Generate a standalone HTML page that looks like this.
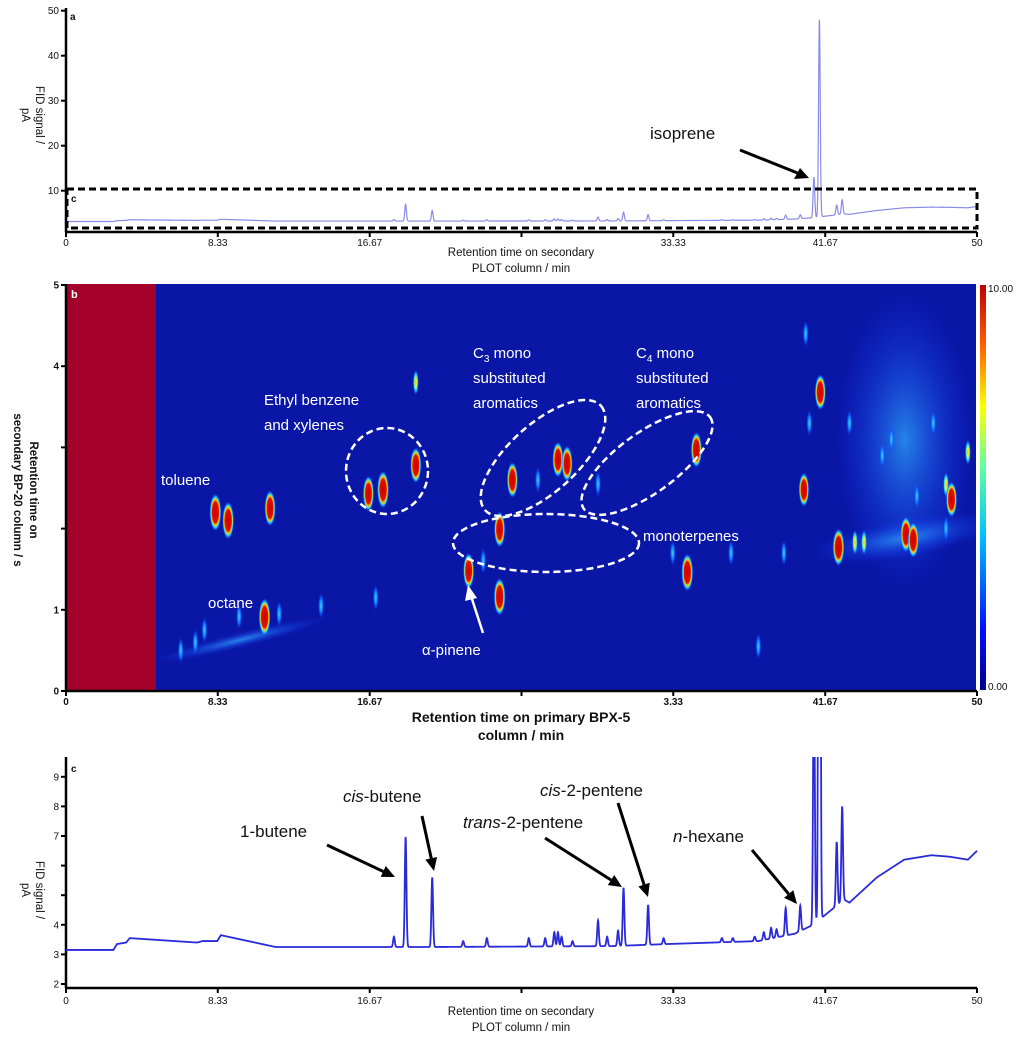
<!DOCTYPE html>
<html><head><meta charset="utf-8">
<style>
html,body{margin:0;padding:0;background:#fff;}
svg{display:block;}
.tk{font-family:"Liberation Sans Narrow","Liberation Sans",sans-serif;font-size:10px;fill:#111;}
.tt{font-family:"Liberation Sans Narrow","Liberation Sans",sans-serif;font-size:11.5px;fill:#111;}
.ann{font-family:"Liberation Sans Narrow","Liberation Sans",sans-serif;font-size:17px;fill:#111;}
.wl{font-family:"Liberation Sans",sans-serif;font-size:15px;fill:#fff;}
</style></head>
<body>
<svg id="fig" width="1024" height="1039" viewBox="0 0 1024 1039" xmlns="http://www.w3.org/2000/svg">
<defs>
<linearGradient id="jet" x1="0" y1="1" x2="0" y2="0">
<stop offset="0" stop-color="#00008f"/><stop offset="0.15" stop-color="#0010ff"/><stop offset="0.38" stop-color="#00c0ff"/><stop offset="0.55" stop-color="#60ffa0"/><stop offset="0.7" stop-color="#ffff00"/><stop offset="0.85" stop-color="#ff6000"/><stop offset="1" stop-color="#c00000"/>
</linearGradient>
<radialGradient id="gHi"><stop offset="0" stop-color="#d00000"/><stop offset="0.55" stop-color="#e01000"/><stop offset="0.68" stop-color="#ffd000"/><stop offset="0.8" stop-color="#20d0ff"/><stop offset="1" stop-color="#1030ff" stop-opacity="0"/></radialGradient>
<radialGradient id="gMid"><stop offset="0" stop-color="#ffb000"/><stop offset="0.35" stop-color="#d0ff40"/><stop offset="0.65" stop-color="#20c0ff"/><stop offset="1" stop-color="#1030ff" stop-opacity="0"/></radialGradient>
<radialGradient id="gLo"><stop offset="0" stop-color="#40d0ff"/><stop offset="0.5" stop-color="#1080ff"/><stop offset="1" stop-color="#1030ff" stop-opacity="0"/></radialGradient>
<radialGradient id="gHaze"><stop offset="0" stop-color="#30a8ff" stop-opacity="0.75"/><stop offset="1" stop-color="#1030ff" stop-opacity="0"/></radialGradient>
<clipPath id="clipC"><rect x="66" y="757" width="912" height="232"/></clipPath>
<clipPath id="clipB"><rect x="66" y="284" width="910" height="407"/></clipPath>
</defs>

<g id="panelA">
  <g id="aAxes"></g>
  <path id="aLine" fill="none" stroke="#8a8ae8" stroke-width="1.2"/>
  <rect x="67" y="189" width="910" height="39" fill="none" stroke="#000" stroke-width="3" stroke-dasharray="7,4"/>
  <text class="tk" x="71" y="202" font-weight="bold">c</text>
  <text class="tk" x="70" y="20" font-weight="bold">a</text>
  <text class="tt" transform="translate(36,115) rotate(90)" text-anchor="middle">FID signal /</text>
  <text class="tt" transform="translate(22,115) rotate(90)" text-anchor="middle">pA</text>
  <text class="tt" x="521" y="256" text-anchor="middle">Retention  time on secondary</text>
  <text class="tt" x="521" y="272" text-anchor="middle">PLOT column  / min</text>
  <text class="ann" x="650" y="139">isoprene</text>
  <line x1="740" y1="150" x2="800" y2="174" stroke="#000" stroke-width="3"/>
  <polygon points="809,178 794,179 800,168" fill="#000"/>
</g>

<g id="panelB">
  <rect x="66" y="284" width="910" height="407" fill="#0a17a6"/>
  <g id="bBlobs" clip-path="url(#clipB)">
    <ellipse cx="905" cy="440" rx="70" ry="150" fill="url(#gHaze)"/>
    <ellipse cx="905" cy="538" rx="95" ry="20" fill="url(#gHaze)" transform="rotate(-10 905 538)"/>
    <ellipse cx="240" cy="640" rx="90" ry="8" fill="url(#gHaze)" transform="rotate(-14 240 640)"/>
  </g>
  <rect x="66" y="284" width="90" height="407" fill="#a3002a"/>
  <g id="bAxes"></g>
  <rect x="980" y="285" width="6" height="405" fill="url(#jet)"/>
  <text class="tk" x="988" y="292" font-size="8.5">10.00</text>
  <text class="tk" x="988" y="690" font-size="8.5">0.00</text>
  <text x="71" y="298" font-family="Liberation Sans" font-size="11" font-weight="bold" fill="#fff">b</text>
  <text class="tt" font-size="12.5" font-weight="bold" transform="translate(30,490) rotate(90)" text-anchor="middle">Retention time on</text>
  <text class="tt" font-size="12.5" font-weight="bold" transform="translate(14,490) rotate(90)" text-anchor="middle">secondary BP-20 column / s</text>
  <text x="521" y="722" text-anchor="middle" font-family="Liberation Sans" font-size="14" font-weight="bold" fill="#111">Retention time on primary BPX-5</text>
  <text x="521" y="740" text-anchor="middle" font-family="Liberation Sans" font-size="14" font-weight="bold" fill="#111">column / min</text>
  <text class="wl" x="161" y="485">toluene</text>
  <text class="wl" x="208" y="608">octane</text>
  <text class="wl" x="264" y="405">Ethyl benzene</text>
  <text class="wl" x="264" y="430">and xylenes</text>
  <text class="wl" x="473" y="358">C<tspan font-size="10" dy="4">3</tspan><tspan dy="-4"> mono</tspan></text>
  <text class="wl" x="473" y="383">substituted</text>
  <text class="wl" x="473" y="408">aromatics</text>
  <text class="wl" x="636" y="358">C<tspan font-size="10" dy="4">4</tspan><tspan dy="-4"> mono</tspan></text>
  <text class="wl" x="636" y="383">substituted</text>
  <text class="wl" x="636" y="408">aromatics</text>
  <text class="wl" x="643" y="541">monoterpenes</text>
  <text class="wl" x="422" y="655">α-pinene</text>
  <line x1="483" y1="633" x2="471" y2="596" stroke="#fff" stroke-width="2.5"/>
  <polygon points="468,585 477,598 465,601" fill="#fff"/>
  <ellipse cx="387" cy="471" rx="41" ry="43" fill="none" stroke="#fff" stroke-width="2.5" stroke-dasharray="7,4"/>
  <ellipse cx="543" cy="458" rx="78" ry="34" fill="none" stroke="#fff" stroke-width="2.5" stroke-dasharray="7,4" transform="rotate(-42 543 458)"/>
  <ellipse cx="647" cy="463" rx="78" ry="30" fill="none" stroke="#fff" stroke-width="2.5" stroke-dasharray="7,4" transform="rotate(-36 647 463)"/>
  <ellipse cx="546" cy="543" rx="93" ry="29" fill="none" stroke="#fff" stroke-width="2.5" stroke-dasharray="7,4"/>
</g>

<g id="panelC">
  <g id="cAxes"></g>
  <path id="cLine" clip-path="url(#clipC)" fill="none" stroke="#2a2ad8" stroke-width="1.8"/>
  <text class="tk" x="71" y="772" font-weight="bold">c</text>
  <text class="tt" transform="translate(36,890) rotate(90)" text-anchor="middle">FID signal /</text>
  <text class="tt" transform="translate(22,890) rotate(90)" text-anchor="middle">pA</text>
  <text class="tt" x="521" y="1015" text-anchor="middle">Retention  time on secondary</text>
  <text class="tt" x="521" y="1031" text-anchor="middle">PLOT column  / min</text>
  <text class="ann" x="240" y="837">1-butene</text>
  <text class="ann" x="343" y="802"><tspan font-style="italic">cis</tspan>-butene</text>
  <text class="ann" x="463" y="828"><tspan font-style="italic">trans</tspan>-2-pentene</text>
  <text class="ann" x="540" y="796"><tspan font-style="italic">cis</tspan>-2-pentene</text>
  <text class="ann" x="673" y="842"><tspan font-style="italic">n</tspan>-hexane</text>
  <g id="cArrows"></g>
</g>

<script>
var baseT = [0, 2.6, 2.8, 3.3, 3.5, 7.2, 7.5, 8.3, 8.5, 11.5, 20, 30, 33, 38, 40, 41, 42, 42.7, 43, 44.5, 46, 47.5, 48.5, 49.5, 50];
var baseV = [3.15, 3.15, 3.35, 3.4, 3.55, 3.4, 3.45, 3.45, 3.65, 3.25, 3.25, 3.28, 3.35, 3.45, 3.7, 4.0, 4.5, 4.85, 4.75, 5.6, 6.2, 6.35, 6.3, 6.2, 6.5];
var peakT = [18.0, 18.64, 20.1, 21.8, 23.1, 25.4, 26.3, 26.8, 27.0, 27.2, 27.8, 29.2, 29.7, 30.3, 30.6, 31.95, 32.8, 36.0, 36.6, 37.8, 38.3, 38.7, 39.0, 39.5, 40.3, 41.05, 41.35, 42.3, 42.6];
var peakH = [3.6, 6.97, 5.6, 3.45, 3.55, 3.55, 3.55, 3.75, 3.75, 3.6, 3.45, 4.15, 3.6, 3.8, 5.25, 4.67, 3.55, 3.55, 3.55, 3.6, 3.75, 3.9, 3.85, 4.57, 4.65, 13, 48, 6.8, 8.0];
var aYTicks = [10, 20, 30, 40, 50];
var xTicks = [0, 8.33, 16.67, 25, 33.33, 41.67, 50];
var xTickLabels = ["0", "8.33", "16.67", "", "33.33", "41.67", "50"];
var cYTicks = [2, 3, 4, 5, 6, 7, 8, 9];
var cYTickLabels = ["2", "3", "4", "", "", "7", "8", "9"];
var blobT1 = [8.2, 8.9, 11.2, 10.9, 16.6, 17.4, 19.2, 19.2, 22.1, 23.8, 23.8, 24.5, 27.0, 27.5, 34.6, 34.1, 41.4, 40.5, 42.4, 43.3, 43.8, 46.1, 46.5, 48.3, 48.6, 49.5, 6.3, 7.1, 9.5, 14.0, 17.0, 22.9, 25.9, 29.2, 33.3, 40.6, 40.8, 45.3, 47.6, 38.0, 44.8, 48.3, 36.5, 39.4, 43.0, 46.7, 11.7, 7.6];
var blobT2 = [2.2, 2.1, 2.25, 0.91, 2.43, 2.48, 2.78, 3.8, 1.48, 1.16, 1.99, 2.6, 2.85, 2.8, 2.97, 1.46, 3.68, 2.48, 1.77, 1.83, 1.83, 1.93, 1.86, 2.54, 2.36, 2.94, 0.5, 0.6, 0.92, 1.05, 1.15, 1.6, 2.6, 2.55, 1.7, 4.4, 3.3, 3.1, 3.3, 0.55, 2.9, 2.0, 1.7, 1.7, 3.3, 2.4, 0.95, 0.75];
var blobI = [10, 10, 9, 10, 9, 10, 9, 6, 9, 10, 9, 9, 9, 9, 9, 10, 9, 8, 10, 7, 7, 9, 9, 7, 9, 6, 3, 3, 3, 3, 2, 4, 4, 4, 3, 3, 3, 3, 3, 3, 4, 4, 2, 3, 3, 4, 3, 3];

(function(){
  var NS = "http://www.w3.org/2000/svg";
  var X0 = 66, X1 = 977;
  function xs(t){ return X0 + (X1 - X0) * t / 50; }
  function ayS(v){ return 235.7 - v * 4.5; }
  function cyS(v){ return 984 - (v - 2) * 29.6; }
  function byS(s){ return 691 - s * 81.2; }
  function mk(tag, attrs, parent){
    var e = document.createElementNS(NS, tag);
    for (var k in attrs) e.setAttribute(k, attrs[k]);
    parent.appendChild(e); return e;
  }
  function baseline(t){
    for (var i = 1; i < baseT.length; i++){
      if (t <= baseT[i]){ var f = (t - baseT[i-1]) / (baseT[i] - baseT[i-1]); return baseV[i-1] + f * (baseV[i] - baseV[i-1]); }
    }
    return baseV[baseV.length - 1];
  }
  function signal(t){
    var b = baseline(t), s = b;
    for (var i = 0; i < peakT.length; i++){
      var d = (t - peakT[i]) / 0.045;
      if (Math.abs(d) < 6) s += (peakH[i] - b) * Math.exp(-0.5 * d * d);
    }
    return s;
  }
  var dA = "", dC = "";
  for (var k = 0; k <= 5000; k++){
    var t = k * 0.01, v = signal(t);
    dA += (k ? "L" : "M") + xs(t).toFixed(2) + " " + ayS(v).toFixed(2);
    dC += (k ? "L" : "M") + xs(t).toFixed(2) + " " + Math.max(700, cyS(v)).toFixed(2);
  }
  document.getElementById("aLine").setAttribute("d", dA);
  document.getElementById("cLine").setAttribute("d", dC);

  function xAxis(g, y, labelY, labels, bold){
    var ax = mk("line", {x1: X0, y1: y, x2: X1, y2: y, stroke: "#000", "stroke-width": 2.5}, g);
    
    
    for (var i = 0; i < xTicks.length; i++){
      var tk = mk("line", {x1: xs(xTicks[i]), y1: y, x2: xs(xTicks[i]), y2: y + 5, stroke: "#000", "stroke-width": 2}, g);
      
      
      var lb = mk("text", {x: xs(xTicks[i]), y: labelY, "text-anchor": "middle", "class": "tk"}, g);
      if (bold) lb.setAttribute("font-weight", "bold");
      lb.textContent = labels[i];
      
      
    }
  }
  function yAxis(g, top, bot, ticks, labels, yf, bold){
    var ax = mk("line", {x1: X0, y1: top, x2: X0, y2: bot, stroke: "#000", "stroke-width": 2.5}, g);
    
    
    for (var i = 0; i < ticks.length; i++){
      var y = yf(ticks[i]);
      var tk = mk("line", {x1: X0 - 5, y1: y, x2: X0, y2: y, stroke: "#000", "stroke-width": 2}, g);
      
      
      var lb = mk("text", {x: X0 - 7, y: y + 3.5, "text-anchor": "end", "class": "tk"}, g);
      if (bold) lb.setAttribute("font-weight", "bold");
      lb.textContent = labels[i];
      
      
    }
  }
  var gA = document.getElementById("aAxes");
  xAxis(gA, 232, 246, xTickLabels, false);
  yAxis(gA, 8, 232, aYTicks, aYTicks.map(String), ayS, false);
  var gB = document.getElementById("bAxes");
  var bY = [0, 1, 2, 3, 4, 5], bYL = ["0", "1", "", "", "4", "5"];
  xAxis(gB, 691, 705, ["0", "8.33", "16.67", "", "3.33", "41.67", "50"], true);
  yAxis(gB, 284, 691, bY, bYL, byS, true);
  var gC = document.getElementById("cAxes");
  xAxis(gC, 988, 1004, xTickLabels, false);
  yAxis(gC, 757, 988, cYTicks, cYTickLabels, cyS, false);

  var gBl = document.getElementById("bBlobs");
  for (var i = 0; i < blobT1.length; i++){
    var I = blobI[i];
    var fill = I >= 8 ? "url(#gHi)" : (I >= 5 ? "url(#gMid)" : "url(#gLo)");
    var rx = I >= 8 ? 2.5 + I * 0.35 : 3;
    var ry = I >= 8 ? 10 + I * 0.9 : 13;
    var e = mk("ellipse", {cx: xs(blobT1[i]), cy: byS(blobT2[i]), rx: rx, ry: ry, fill: fill}, gBl);
    
    
  }

  var arrows = [[327,845,395,877],[422,816,434,871],[545,838,622,887],[618,803,648,897],[752,850,797,904]];
  var gAr = document.getElementById("cArrows");
  for (var j = 0; j < arrows.length; j++){
    var a = arrows[j], dx = a[2]-a[0], dy = a[3]-a[1], L = Math.sqrt(dx*dx+dy*dy), ux = dx/L, uy = dy/L;
    var bx = a[2] - ux*13, by = a[3] - uy*13;
    var ln = mk("line", {x1: a[0], y1: a[1], x2: bx, y2: by, stroke: "#000", "stroke-width": 3}, gAr);
    
    
    var hd = mk("polygon", {points: a[2]+","+a[3]+" "+(bx-uy*6)+","+(by+ux*6)+" "+(bx+uy*6)+","+(by-ux*6), fill: "#000"}, gAr);
    
    
  }
})();
</script>
</body></html>
